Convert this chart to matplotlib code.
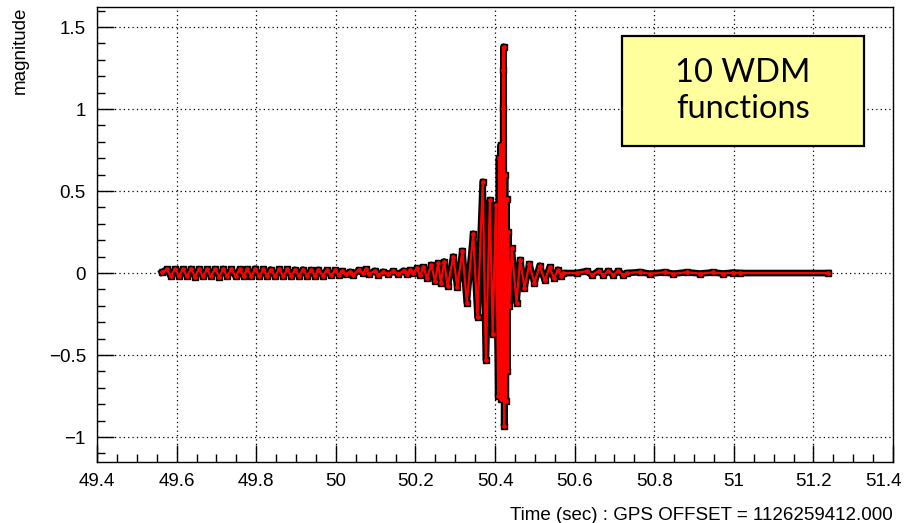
import matplotlib.pyplot as plt
from matplotlib.ticker import MultipleLocator
from matplotlib.patches import Rectangle

plt.rcParams['font.family'] = ['Liberation Sans', 'DejaVu Sans']

# Whitened strain around the event (time in s after the GPS offset)
t_early = [49.563, 49.575, 49.585, 49.596, 49.606, 49.615, 49.626, 49.636, 49.646,
           49.656, 49.666, 49.676, 49.686, 49.696, 49.707, 49.717, 49.727, 49.737,
           49.748, 49.758, 49.768, 49.778, 49.788, 49.797, 49.808, 49.818, 49.827,
           49.836, 49.847, 49.858, 49.868, 49.878, 49.888, 49.897, 49.907, 49.917,
           49.928, 49.938, 49.947, 49.956, 49.967, 49.977, 49.988, 49.998, 50.007,
           50.015, 50.025]
v_early = [0.005, 0.022, -0.018, 0.024, -0.020, 0.023, -0.019, 0.025, -0.021,
           0.024, -0.020, 0.022, -0.019, 0.024, -0.021, 0.025, -0.020, 0.023,
           -0.019, 0.022, -0.018, 0.024, -0.020, 0.026, -0.019, 0.022, -0.018,
           0.021, -0.019, 0.023, -0.018, 0.022, -0.017, 0.020, -0.018, 0.021,
           -0.016, 0.019, -0.017, 0.020, -0.015, 0.017, -0.014, 0.016, -0.012,
           0.012, -0.008]

t_quiet = [50.036, 50.044, 50.057, 50.069, 50.075, 50.083, 50.098, 50.107, 50.119,
           50.132, 50.144, 50.157, 50.170, 50.178, 50.186, 50.195, 50.203]
v_quiet = [0.008, -0.012, 0.018, -0.002, 0.022, -0.006, 0.014, -0.012, 0.008,
           -0.006, 0.010, -0.006, 0.014, -0.006, 0.018, -0.002, 0.028]

t_chirp = [50.212, 50.220, 50.229, 50.240, 50.249, 50.257, 50.264, 50.272, 50.281,
           50.295, 50.305, 50.318, 50.329, 50.345, 50.356, 50.369, 50.377, 50.387,
           50.394, 50.402, 50.408, 50.410, 50.412, 50.414, 50.416, 50.418, 50.420,
           50.4205, 50.4210, 50.4215, 50.423, 50.425, 50.427, 50.429, 50.431, 50.433,
           50.436]
v_chirp = [-0.012, 0.035, -0.030, 0.050, -0.050, 0.060, -0.060, 0.070, -0.080,
           0.100, -0.085, 0.135, -0.180, 0.240, -0.270, 0.557, -0.530, 0.445,
           -0.370, 0.415, -0.750, 0.700, -0.720, 0.780, -0.770, 0.740, -0.700,
           1.006, 1.240, 1.380, -0.930, 0.600, -0.780, 0.450, -0.600, 0.250,
           -0.200]

t_ring = [50.442, 50.454, 50.463, 50.474, 50.486, 50.499, 50.512, 50.525, 50.537,
          50.548, 50.558, 50.566, 50.572, 50.605, 50.630, 50.643, 50.660, 50.672,
          50.685, 50.697, 50.710, 50.722, 50.731, 50.764, 50.789, 50.827, 50.848,
          50.882, 50.915, 50.948, 50.973, 50.999, 51.016, 51.237]
v_ring = [0.150, -0.180, 0.080, -0.090, 0.055, -0.060, 0.045, -0.045, 0.035,
          -0.030, 0.020, -0.015, 0.000, 0.000, 0.012, -0.012, 0.012, -0.012,
          0.012, -0.012, 0.012, -0.010, 0.000, 0.006, -0.004, 0.005, -0.004,
          0.005, -0.003, 0.004, -0.003, 0.003, 0.000, 0.000]

t = t_early + t_quiet + t_chirp + t_ring
v = v_early + v_quiet + v_chirp + v_ring

x_ticks = [49.4, 49.6, 49.8, 50.0, 50.2, 50.4, 50.6, 50.8, 51.0, 51.2, 51.4]
x_labels = ['49.4', '49.6', '49.8', '50', '50.2', '50.4', '50.6', '50.8', '51', '51.2', '51.4']

fig = plt.figure(figsize=(9.07, 5.23), dpi=100)
ax = fig.add_axes([0.107, 0.1166, 0.8776, 0.87])

# original signal (black) and its 10-function WDM reconstruction (red)
ax.plot(t, v, color='black', lw=4.8, marker='s', ms=5, mec='black', zorder=3)
ax.plot(t, v, color='red', lw=1.6, marker='o', ms=2.4, mec='red', zorder=4)

ax.set_xlim(49.4, 51.4)
ax.set_ylim(-1.152, 1.622)
# last label is drawn separately so it stays inside the canvas
ax.set_xticks(x_ticks, x_labels[:-1] + [''])
ax.annotate(x_labels[-1], xy=(x_ticks[-1], 0), xycoords=('data', 'axes fraction'),
            xytext=(-7, -8), textcoords='offset points', ha='center', va='top', fontsize=13.5)
ax.xaxis.set_minor_locator(MultipleLocator(0.05))
ax.yaxis.set_major_locator(MultipleLocator(0.5))
ax.yaxis.set_minor_locator(MultipleLocator(0.1))
ax.yaxis.set_major_formatter(plt.FuncFormatter(lambda y, p: f"{y:g}".replace('-', '\u2212')))
ax.tick_params(which='both', direction='in', top=False, right=False, labelsize=13.5, width=1)
ax.tick_params(which='major', length=12, pad=8)
ax.tick_params(which='minor', length=6)
ax.grid(True, which='major', color='black', linestyle=(0, (1, 2.5)), linewidth=0.9)
for s in ax.spines.values():
    s.set_linewidth(1)

ax.set_ylabel('magnitude', fontsize=13.5, loc='top', labelpad=14)
ax.set_xlabel('Time (sec) : GPS OFFSET = 1126259412.000', fontsize=13.5, loc='right', labelpad=12)

# label box
fig.patches.append(Rectangle((0.6854, 0.7214), 0.2671, 0.2098, transform=fig.transFigure,
                             facecolor='#FFFF9E', edgecolor='black', lw=1.6, zorder=5))
fig.text(0.8190, 0.8262, '10 WDM\nfunctions', ha='center', va='center', fontsize=23.5,
         family=['Lato', 'DejaVu Sans'], linespacing=1.25, zorder=6)

fig.savefig('out.png', dpi=100)
